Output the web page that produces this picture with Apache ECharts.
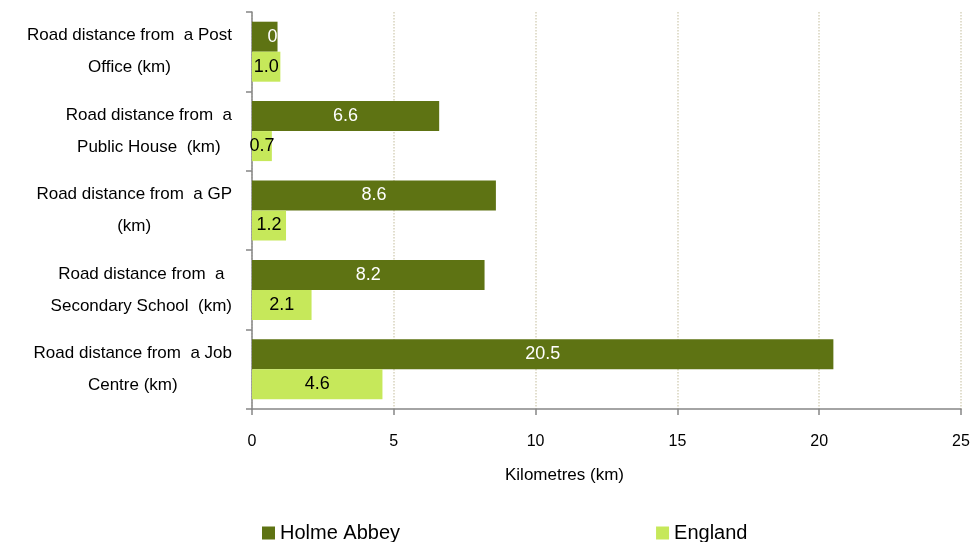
<!DOCTYPE html>
<html>
<head>
<meta charset="utf-8">
<script src="https://cdn.jsdelivr.net/npm/echarts@6/dist/echarts.min.js"></script>
<style>html,body{margin:0;padding:0;background:#fff;}#c{width:973px;height:542px;}</style>
</head>
<body>
<div id="c"></div>
<script>
const categories = [
  "Road distance from  a Post\nOffice (km)",
  "Road distance from  a\nPublic House  (km)",
  "Road distance from  a GP\n(km)",
  "Road distance from  a\nSecondary School  (km)",
  "Road distance from  a Job\nCentre (km)"
];
const holmeAbbey = [0.9, 6.6, 8.6, 8.2, 20.5];
const england = [1.0, 0.7, 1.2, 2.1, 4.6];
const xTicks = [0, 5, 10, 15, 20, 25];
const seriesNames = ["Holme Abbey", "England"];

const chart = echarts.init(document.getElementById('c'));
const font = '"Liberation Sans", Arial, sans-serif';

function labelFor(i) {
  return i === 0 ? { width: 14, overflow: 'truncate', ellipsis: '', position: 'insideRight', distance: 0 } : {};
}

chart.setOption({
  animation: false,
  textStyle: { fontFamily: font },
  grid: { left: 252, right: 12, top: 12, bottom: 133, containLabel: false },
  legend: {
    data: seriesNames,
    left: 257, top: 518,
    icon: 'rect', itemWidth: 13, itemHeight: 13, itemGap: 256,
    textStyle: { fontSize: 20, color: '#000', fontFamily: font }
  },
  xAxis: {
    type: 'value', min: xTicks[0], max: xTicks[xTicks.length - 1], interval: 5,
    name: 'Kilometres (km)', nameLocation: 'middle', nameGap: 58,
    nameTextStyle: { fontSize: 17, color: '#000', padding: [0, 84, 0, 0] },
    axisLine: { show: true, lineStyle: { color: '#868686', width: 1.5 } },
    axisTick: { show: true, length: 6, lineStyle: { color: '#868686', width: 1.5 } },
    axisLabel: { fontSize: 16, color: '#000', margin: 25 },
    splitLine: { show: true, lineStyle: { color: '#d8d3bd', type: 'dotted', width: 1.5 } }
  },
  yAxis: {
    type: 'category', data: categories, inverse: true,
    axisLine: { show: true, lineStyle: { color: '#868686', width: 1.5 } },
    axisTick: { show: true, length: 6, lineStyle: { color: '#868686', width: 1.5 } },
    axisLabel: {
      margin: 20, fontSize: 17, color: '#000', lineHeight: 32,
      formatter: v => v.split('\n').map(s => '{c|' + s + '}').join('\n'),
      rich: { c: { align: 'center', fontSize: 17, color: '#000', lineHeight: 32, fontFamily: font } }
    },
    splitLine: { show: false }
  },
  series: [
    {
      name: seriesNames[0], type: 'bar', barWidth: 30, barGap: '0%',
      itemStyle: { color: '#5e7313' },
      label: { show: true, position: 'inside', color: '#fff', fontSize: 18, formatter: p => p.value.toFixed(1) },
      data: holmeAbbey.map((v, i) => ({ value: v, label: labelFor(i) }))
    },
    {
      name: seriesNames[1], type: 'bar', barWidth: 30, barGap: '0%',
      itemStyle: { color: '#c6e85a' },
      label: { show: true, position: 'inside', color: '#000', fontSize: 18, formatter: p => p.value.toFixed(1) },
      data: england
    }
  ]
});
</script>
</body>
</html>
